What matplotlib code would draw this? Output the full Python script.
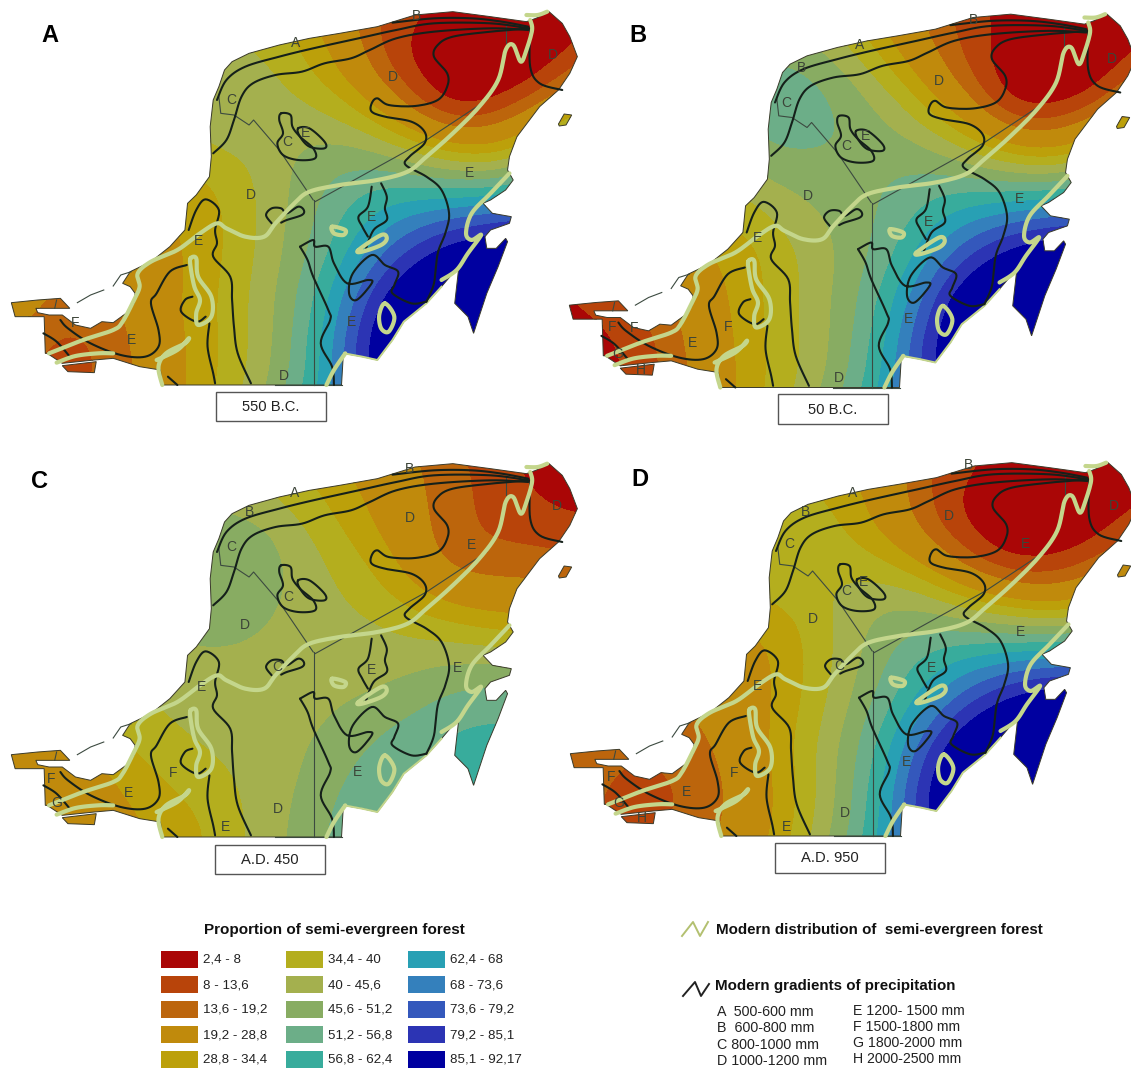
import numpy as np
import matplotlib
matplotlib.use("Agg")
import matplotlib.pyplot as plt
from matplotlib.path import Path
from matplotlib.patches import PathPatch, Rectangle

plt.rcParams['font.family'] = ['Liberation Sans', 'DejaVu Sans']

# ---------- classes ----------
CLASS_LABELS = ['2,4 - 8', '8 - 13,6', '13,6 - 19,2', '19,2 - 28,8', '28,8 - 34,4',
                '34,4 - 40', '40 - 45,6', '45,6 - 51,2', '51,2 - 56,8', '56,8 - 62,4',
                '62,4 - 68', '68 - 73,6', '73,6 - 79,2', '79,2 - 85,1', '85,1 - 92,17']
CLASS_BOUNDS = [2.4, 8, 13.6, 19.2, 28.8, 34.4, 40, 45.6, 51.2, 56.8, 62.4, 68, 73.6, 79.2, 85.1, 92.17]
CLASS_COLORS = ['#aa0606', '#b8440a', '#bc650c', '#c08a0c', '#bca00a',
                '#b4ae1e', '#a4b04e', '#88ac62', '#6cae88', '#38ac9c',
                '#28a0b4', '#3480bc', '#3458bc', '#2c34b4', '#0000a0']
PRECIP_LEFT = ['A  500-600 mm', 'B  600-800 mm', 'C 800-1000 mm', 'D 1000-1200 mm']
PRECIP_RIGHT = ['E 1200- 1500 mm', 'F 1500-1800 mm', 'G 1800-2000 mm', 'H 2000-2500 mm']
PANEL_TITLES = ['550 B.C.', '50 B.C.', 'A.D. 450', 'A.D. 950']
PANEL_LETTERS = ['A', 'B', 'C', 'D']

# ---------- sampled forest proportion per panel at map nodes (x, y in map units) ----------
NODE_X = [1490,1480,1420,1350,1200,1280,1100,1200,1340,1100,1000,900,1000,1120,1250,800,900,1000,1100,1240,1340,1300,1200,1080,950,850,700,620,780,900,600,590,650,1300,1180,1000,880,760,640,590,540,620,720,830,930,1050,1190,1300,1340,1000,1100,1200,1280,1270,1150,1050,1020,960,970,1000,930,870,800,880,920,870,790,770,700,700,640,620,570,500,530,560,470,420,380,330,260,150,140,60,210,1495,1040,1120,1070,1320,1400,1180]
NODE_Y = [130,230,300,200,200,290,170,340,360,310,230,210,120,60,60,240,300,330,400,420,440,490,480,470,430,390,260,180,130,110,300,410,350,570,550,510,500,500,500,520,600,640,680,650,640,630,650,660,660,720,730,740,800,950,840,900,1020,1050,930,830,790,760,780,950,1040,1130,1100,960,900,1100,1100,880,770,720,1120,960,900,1010,850,1030,1030,1000,920,925,1105,355,110,900,960,750,250,290]
VALUES_A = [4,10,15,4,4,4,5,6,20,14,18,28,12,11,11,35,37,30,30,24,28,37,40,47,47,44,42,42,36,28,46,45,43,57,54,53,51,44,38,33,31,36,44,50,58,65,72,78,80,66,76,88,96,96,96,94,96,88,80,76,64,55,49,62,72,64,50,48,44,44,38,38,33,29,32,34,30,26,22,20,12,10,12,32,10,45,7,96,96,96,4,3]
VALUES_B = [4,10,7,4,4,4,12,9,16,24,22,32,18,12,8,45,43,33,34,24,27,36,40,46,49,47,52,52,38,25,56,54,54,60,55,52,50,47,48,47,40,44,46,50,54,63,70,76,78,66,74,86,96,96,96,92,92,82,74,73,60,54,49,60,68,64,50,48,45,44,40,40,35,31,34,37,30,26,26,20,11,8,8,10,9,40,14,96,94,96,3,3]
VALUES_C = [4,12,15,13,16,14,22,15,18,25,28,33,27,20,15,40,37,35,28,22,24,30,32,35,38,41,50,43,36,32,52,50,50,36,40,42,42,43,47,47,45,44,43,43,43,43,47,50,50,44,47,53,55,62,56,56,56,56,52,50,47,45,43,49,52,52,46,43,43,43,40,42,42,42,32,38,40,33,38,30,24,21,22,26,23,15,22,55,55,54,13,14]
VALUES_D = [4,10,12,4,4,5,4,9,13,12,13,20,12,11,8,30,30,23,22,20,22,33,38,42,45,42,38,38,32,24,39,40,39,57,53,50,49,42,33,30,26,32,40,47,56,63,70,76,78,63,74,86,96,96,96,94,96,88,80,75,62,55,48,60,70,64,50,48,44,44,36,36,29,25,24,28,22,18,20,15,11,11,10,26,12,25,7,96,96,96,3,3]

# ---------- map geometry (map units) ----------
COAST_X = [120,117,40,30,100,160,185,130,95,100,130,165,200,240,270,300,340,355,358,345,325,345,400,450,490,497,520,555,560,557,565,580,595,615,660,740,820,900,1000,1100,1200,1300,1395,1420,1455,1490,1510,1530,1510,1480,1430,1370,1350,1345,1360,1340,1300,1280,1305,1355,1350,1300,1285,1290,1315,1340,1345,1320,1290,1255,1240,1205,1215,1200,1170,1130,1070,1040,1000,960,910,905,430,425,370,300,250,165,125]
COAST_Y = [1060,950,950,908,900,895,925,925,925,938,945,945,975,985,965,968,935,910,880,860,850,815,785,740,690,610,585,530,470,380,300,260,210,185,160,135,115,100,80,45,35,50,65,55,35,70,110,170,220,270,320,410,470,510,540,570,600,610,640,650,670,690,710,745,745,715,725,800,880,1000,950,910,810,820,860,910,965,1020,1080,1070,1060,1155,1155,1110,1100,1075,1080,1090,1060]
ISLET_H_X = [165,255,250,180]
ISLET_H_Y = [1097,1085,1118,1115]
COZUMEL_X = [1480,1495,1515,1500,1482]
COZUMEL_Y = [372,342,345,375,378]

BLACK_LINES = [
    ([1040,1150,1250,1330,1400], [68,55,55,65,80]),
    ([575,600,650,740,830,950,1050,1150,1300,1400], [300,240,200,170,145,115,90,70,70,85]),
    ([565,600,620,640,670,730,800,860,930,980,1050,1150,1300,1400], [460,420,360,290,250,225,215,190,175,150,115,95,85,90]),
    ([1405,1300,1200,1160,1150,1185,1185,1160,1100,1030,1000,985,985,1020,1090,1125,1125,1085,1075,1130,1170,1190,1180,1160,1150,1130], [85,95,110,135,170,220,260,300,318,315,295,310,335,350,365,395,430,470,495,530,570,640,700,760,850,905]),
    ([1405,1405,1430,1490], [90,200,250,270]),
    ([745,770,775,795,830,835,790,750,735,750,740,745], [340,345,380,410,445,475,480,465,430,400,360,340]),
    ([790,820,860,860,820,795,790], [385,385,425,445,440,410,385]),
    ([1010,1025,1020,1025,990,970], [550,590,625,660,690,745]),
    ([985,975,950,960,975], [560,620,650,680,710]),
    ([720,705,720,745,760,790,805,800,760,745], [670,645,625,625,640,620,630,645,660,668]),
    ([795,830,835,870,885,920,975,985,945,925,935,985,1020,1055,1045,1040,1090,1130], [740,720,740,740,790,850,840,850,900,880,820,765,795,815,855,880,910,905]),
    ([795,815,830,870,875,850,880,885], [740,780,830,930,960,1030,1100,1155]),
    ([500,520,545,580,570,575,565,610,615,620,630,665], [690,630,598,630,690,730,770,830,900,980,1060,1150]),
    ([495,450,415,400,420,420,385,320,240,180,160], [795,815,880,910,990,1040,1070,1065,1030,985,960]),
    ([545,520,480,490,510], [950,965,935,900,890]),
    ([555,550,565,570], [970,1040,1120,1150]),
    ([115,150,185], [1000,1025,1070]),
    ([445,470], [1130,1155]),
]
THIN_LINES = [
    ([580,585,620,660,672,740,830], [290,340,345,375,360,450,600]),
    ([835,1130,1290], [605,420,300]),
    ([833,833], [600,1155]),
    ([1340,1340], [75,130]),
    ([150,145], [900,925]),
    ([205,240,275], [908,885,870]),
    ([300,320,348], [858,825,815]),
    ([730,905], [1155,1155]),
]
GREEN_LINES = [
    ([130,220,300,325,355,370,365,400,470,530,575,600,650,700,730,780,820,900,1000,1080,1130,1200,1270,1320,1340,1360,1380,1395,1410,1405], [1060,1020,990,965,900,860,820,785,750,700,670,685,710,710,670,610,575,555,540,515,470,400,320,240,150,135,185,150,90,60]),
    ([1395,1425,1450], [45,45,35]),
    ([1350,1300,1250,1235,1250,1275,1240,1210,1170], [520,580,640,700,720,705,760,810,840]),
    ([150,200,260,300], [1088,1068,1060,1060]),
    ([430,420,440,490,500,470,415], [1155,1100,1060,1030,1015,1050,1080]),
    ([505,520,525,560,560,525,520,530,515,505,505], [775,775,830,890,950,975,940,900,860,800,775]),
    ([1020,1045,1030,1010,1005,1020], [910,950,995,985,945,910]),
    ([880,915,910,885,880], [680,690,705,700,680]),
    ([950,1010,1025,1010,960,950], [750,705,715,735,755,750]),
    ([865,885,915], [1155,1110,1060]),
]
HALO_X = [1170,1130,1070,1040,1000,960,912]
HALO_Y = [860,910,965,1020,1080,1070,1060]

MAP_LETTERS = [
    [('D',1465,165),('D',1042,232),('C',612,300),('C',762,425),('E',810,400),('D',665,585),('E',985,652),('E',527,722),('E',1243,520),('E',348,1020),('E',932,965),('D',752,1127),('A',782,130),('B',1105,48),('F',200,970)],
    [('D',1467,170),('D',1009,235),('B',644,197),('C',605,302),('C',765,430),('E',814,402),('D',661,580),('E',983,657),('E',529,707),('E',1224,590),('E',357,1022),('F',451,972),('F',143,972),('G',157,1054),('H',219,1102),('E',930,950),('D',745,1125),('B',1100,52),('F',203,977),('A',798,127)],
    [('D',1475,162),('D',1085,197),('E',1250,279),('B',660,179),('C',612,286),('C',765,434),('D',650,519),('C',735,646),('E',985,654),('E',535,706),('E',1213,649),('F',460,962),('F',135,982),('G',150,1054),('E',340,1024),('E',947,959),('D',737,1072),('E',597,1124),('A',780,124),('B',1085,52)],
    [('D',1470,165),('D',1033,195),('E',1235,280),('B',653,182),('C',610,280),('C',762,419),('E',806,392),('D',673,504),('C',743,645),('E',986,650),('E',526,705),('E',1223,542),('F',463,967),('F',137,977),('G',157,1057),('H',219,1102),('E',338,1024),('E',920,932),('D',758,1087),('E',603,1127),('A',779,125),('B',1086,42)],
]

W, H = 1131, 1068
UX, UY = 2.65, 3.0           # map units per pixel
PANEL_PX = [(0, 0), (558, 2.5), (0, 452), (559, 451)]
BOX_PX = [(216, 392, 110, 29), (778, 394, 110, 30), (215, 845, 110, 29), (775, 843, 110, 30)]
LETTER_PX = [(50, 35), (638, 35), (39, 482), (640, 480)]
PANEL_W, PANEL_H = 590, 430


def tps_field(xn, yn, vn, gx, gy, reg=70.0):
    """Thin-plate surface through the sampled nodes, evaluated on the grid."""
    xn, yn, vn = map(np.asarray, (xn, yn, vn))
    s = 1000.0
    px, py = xn / s, yn / s

    def kern(r2):
        return 0.5 * r2 * np.log(np.maximum(r2, 1e-12))
    r2 = (px[:, None] - px[None, :])**2 + (py[:, None] - py[None, :])**2
    n = len(px)
    K = kern(r2) + np.eye(n) * reg / s
    P = np.column_stack([np.ones(n), px, py])
    A = np.block([[K, P], [P.T, np.zeros((3, 3))]])
    b = np.concatenate([vn, np.zeros(3)])
    sol = np.linalg.solve(A, b)
    qx, qy = gx.ravel() / s, gy.ravel() / s
    out = np.empty(qx.size)
    for i in range(0, qx.size, 20000):
        ax_, ay_ = qx[i:i+20000], qy[i:i+20000]
        r = (ax_[:, None] - px[None, :])**2 + (ay_[:, None] - py[None, :])**2
        out[i:i+20000] = kern(r) @ sol[:n] + sol[n] + sol[n+1] * ax_ + sol[n+2] * ay_
    return out.reshape(gx.shape)


def smooth(xs, ys, steps=8):
    """Catmull-Rom resampling of a traced line."""
    pts = np.column_stack([xs, ys]).astype(float)
    if len(pts) < 3:
        return pts[:, 0], pts[:, 1]
    closed = np.allclose(pts[0], pts[-1])
    if closed:
        p = np.vstack([pts[-2], pts, pts[1]])
    else:
        p = np.vstack([pts[0], pts, pts[-1]])
    out = []
    t = np.linspace(0, 1, steps, endpoint=False)[:, None]
    for i in range(1, len(p) - 2):
        a, b, c, d = p[i-1], p[i], p[i+1], p[i+2]
        out.append(0.5 * (2*b + (c-a)*t + (2*a-5*b+4*c-d)*t**2 + (3*b-a-3*c+d)*t**3))
    out.append(pts[-1:])
    q = np.vstack(out)
    return q[:, 0], q[:, 1]


def ring(xs, ys):
    v = np.column_stack([list(xs) + [xs[0]], list(ys) + [ys[0]]]).astype(float)
    return Path(v, [Path.MOVETO] + [Path.LINETO] * (len(v) - 2) + [Path.CLOSEPOLY])


land = Path.make_compound_path(ring(COAST_X, COAST_Y), ring(ISLET_H_X, ISLET_H_Y), ring(COZUMEL_X, COZUMEL_Y))

gx, gy = np.meshgrid(np.arange(0, 1566, 4.0), np.arange(0, 1200, 4.0))
fields = [tps_field(NODE_X, NODE_Y, v, gx, gy) for v in (VALUES_A, VALUES_B, VALUES_C, VALUES_D)]

fig = plt.figure(figsize=(W / 100, H / 100), dpi=100, facecolor='white')

for k in range(4):
    dx, dy = PANEL_PX[k]
    ax = fig.add_axes([dx / W, 1 - (dy + PANEL_H) / H, PANEL_W / W, PANEL_H / H])
    ax.set_xlim(0, PANEL_W * UX)
    ax.set_ylim(PANEL_H * UY, 0)
    ax.axis('off')
    z = np.clip(fields[k], CLASS_BOUNDS[0] + 0.01, CLASS_BOUNDS[-1] - 0.01)
    cs = ax.contourf(gx, gy, z, levels=CLASS_BOUNDS, colors=CLASS_COLORS)
    cs.set_edgecolor('face')
    cs.set_linewidth(0.5)
    patch = PathPatch(land, facecolor='none', edgecolor='#3a3a2a', lw=0.7, zorder=3)
    ax.add_patch(patch)
    cs.set_clip_path(patch)
    for xs, ys in THIN_LINES:
        ax.plot(xs, ys, color='#3c4a40', lw=0.8, zorder=4)
    ax.plot(HALO_X, HALO_Y, color='#c4d68c', lw=1.4, zorder=4)
    for xs, ys in BLACK_LINES:
        sx, sy = smooth(xs, ys)
        ax.plot(sx, sy, color='#15201a', lw=1.5, zorder=5, solid_capstyle='round')
    for xs, ys in GREEN_LINES:
        sx, sy = smooth(xs, ys)
        ax.plot(sx, sy, color='#c4d68c', lw=3.0, zorder=6, solid_capstyle='round')
    for ch, x, y in MAP_LETTERS[k]:
        ax.text(x, y, ch, fontsize=10, color='#3c4438', ha='center', va='center', zorder=7)

ov = fig.add_axes([0, 0, 1, 1])
ov.set_xlim(0, W)
ov.set_ylim(H, 0)
ov.axis('off')
ov.patch.set_alpha(0)

for k in range(4):
    x, y, w, h = BOX_PX[k]
    ov.add_patch(Rectangle((x, y), w, h, facecolor='white', edgecolor='#555555', lw=1.0))
    ov.text(x + w / 2, y + h / 2 + 0.5, PANEL_TITLES[k], fontsize=10.6, ha='center', va='center', color='#222222')
    lx, ly = LETTER_PX[k]
    ov.text(lx, ly, PANEL_LETTERS[k], fontsize=17, fontweight='bold', ha='center', va='center', color='black')

ov.text(334, 930, 'Proportion of semi-evergreen forest', fontsize=11, fontweight='bold', ha='center', va='center', color='#111111')
col_x = [161, 286, 408]
row_y = [951, 976, 1001, 1026, 1051]
for i, (lab, c) in enumerate(zip(CLASS_LABELS, CLASS_COLORS)):
    cx, ry = col_x[i // 5], row_y[i % 5]
    ov.add_patch(Rectangle((cx, ry), 37, 17, facecolor=c, edgecolor='none'))
    ov.text(cx + 42, ry + 9, lab, fontsize=9.6, ha='left', va='center', color='#222222')

ov.plot([682, 693, 700, 708], [936, 922, 936, 922], color='#b3c070', lw=1.4)
ov.plot([683, 695, 701, 709], [996, 982, 996, 984], color='#222222', lw=1.4)
ov.text(716, 930, 'Modern distribution of  semi-evergreen forest', fontsize=10.9, fontweight='bold', ha='left', va='center', color='#111111')
ov.text(715, 986, 'Modern gradients of precipitation', fontsize=10.9, fontweight='bold', ha='left', va='center', color='#111111')
for lab, y in zip(PRECIP_LEFT, [1012, 1028, 1045, 1061]):
    ov.text(717, y, lab, fontsize=10.3, ha='left', va='center', color='#222222')
for lab, y in zip(PRECIP_RIGHT, [1011, 1027, 1043, 1059]):
    ov.text(853, y, lab, fontsize=10.2, ha='left', va='center', color='#222222')

fig.savefig('out.png', dpi=100)
